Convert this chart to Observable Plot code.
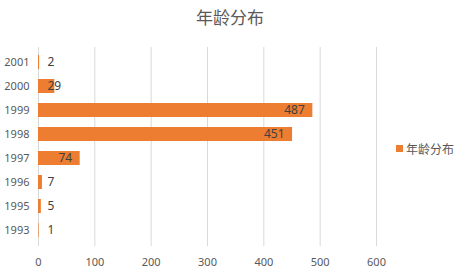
<!DOCTYPE html>
<html><head><meta charset="utf-8">
<script src="https://cdn.jsdelivr.net/npm/d3@7"></script>
<script src="https://cdn.jsdelivr.net/npm/@observablehq/plot@0.6"></script>
<style>
body{margin:0;background:#fff;}
#wrap{position:relative;width:460px;height:275px;font-family:"Noto Sans","Noto Sans CJK SC",sans-serif;}
#title{position:absolute;left:0;top:4px;width:460px;text-align:center;font-size:17px;color:#595959;font-family:"Noto Sans CJK SC",sans-serif;}
#legend{position:absolute;left:396px;top:140px;font-size:12px;color:#595959;font-family:"Noto Sans CJK SC",sans-serif;display:flex;align-items:center;}
#legend span.sw{display:inline-block;width:7px;height:7px;background:#ED7D31;margin-right:3px;}
#chart{position:absolute;left:0;top:0;}
</style></head>
<body><div id="wrap"><div id="chart"></div><div id="title">年龄分布</div><div id="legend"><span class="sw"></span><span>年龄分布</span></div></div>
<script>
const years = ["2001","2000","1999","1998","1997","1996","1995","1993"];
const counts = [2, 29, 487, 451, 74, 7, 5, 1];
const xTicks = [0,100,200,300,400,500,600];
const seriesName = "年龄分布";
const data = years.map((y,i)=>({year:y, value:counts[i]}));
const big = data.filter(d=>d.value>=50);
const small = data.filter(d=>d.value<50);
const chart = Plot.plot({
  width:460, height:275,
  marginLeft:38, marginRight:84, marginTop:47, marginBottom:29,
  style:{fontFamily:'"Noto Sans","Noto Sans CJK SC",sans-serif', fontSize:"11px", color:"#595959", background:"transparent"},
  x:{domain:[0,600], ticks:xTicks, tickSize:0, tickPadding:12, label:null, grid:false},
  y:{domain:years, paddingInner:0.4, paddingOuter:0.2, tickSize:0, tickPadding:9, label:null},
  marks:[
    Plot.ruleX(xTicks,{stroke:"#d9d9d9", strokeWidth:1}),
    Plot.barX(data,{y:"year", x:"value", fill:"#ED7D31"}),
    Plot.text(big,{y:"year", x:"value", text:d=>String(d.value), textAnchor:"end", dx:-8, fill:"#404040", fontSize:12}),
    Plot.text(small,{y:"year", x:()=>0, text:d=>String(d.value), textAnchor:"start", dx:9, fill:"#404040", fontSize:12}),
    Plot.axisX({ticks:xTicks, tickSize:0, tickPadding:12, label:null, fill:"#595959"}),
    Plot.axisY({tickSize:0, tickPadding:9, label:null, fill:"#595959"})
  ]
});
document.getElementById("chart").appendChild(chart);
</script></body></html>
